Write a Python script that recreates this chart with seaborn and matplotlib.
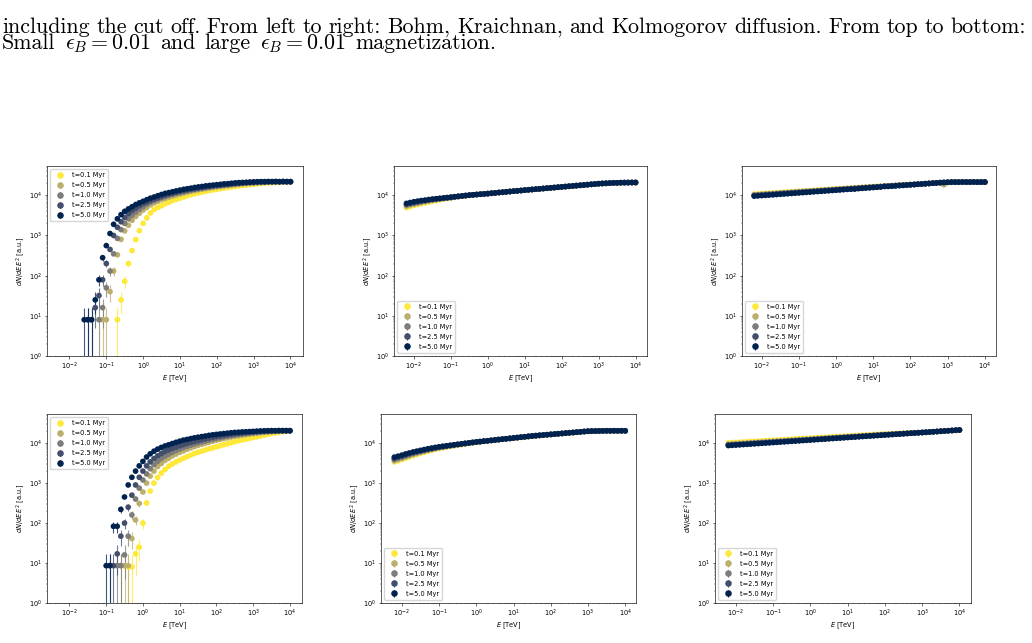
import matplotlib
matplotlib.use("Agg")
import matplotlib.pyplot as plt
import numpy as np
import pandas as pd
import seaborn as sns
from matplotlib.ticker import LogLocator, NullFormatter

# ---------------------------------------------------------------- data
times = ["t=0.1 Myr", "t=0.5 Myr", "t=1.0 Myr", "t=2.5 Myr", "t=5.0 Myr"]

# energy bins [TeV], shared by all panels (series are aligned to the high end)
E = [0.0063, 0.0079, 0.01, 0.0126, 0.0158, 0.02, 0.0251, 0.0316, 0.0398, 0.0501,
     0.0631, 0.0794, 0.1, 0.126, 0.158, 0.2, 0.251, 0.316, 0.398, 0.501,
     0.631, 0.794, 1.0, 1.26, 1.58, 2.0, 2.51, 3.16, 3.98, 5.01,
     6.31, 7.94, 10, 12.6, 15.8, 20, 25.1, 31.6, 39.8, 50.1,
     63.1, 79.4, 100, 126, 158, 200, 251, 316, 398, 501,
     631, 794, 1000, 1259, 1585, 1995, 2512, 3162, 3981, 5012,
     6310, 7943, 10000]

x_ticks = [0.01, 0.1, 1, 10, 100, 1000, 10000]
y_ticks = [1, 10, 100, 1000, 10000]

# Bohm, small eps_B
bohm_small_01 = [8, 25, 72, 200, 420, 790, 1320, 2000, 2750, 3630,
                 4470, 5000, 5500, 6170, 6760, 7410, 7940, 8510, 9120, 9770,
                 10350, 10960, 11480, 12020, 12590, 13180, 13650, 14130, 14620, 15140,
                 15670, 16220, 16600, 17180, 17580, 17990, 18410, 18840, 19280, 19720,
                 19950, 20420, 20650, 20890, 21130, 21380, 21380, 21630]
bohm_small_05 = [8, 8, 40, 130, 330, 800, 1300, 1800, 2400, 3000,
                 3600, 4300, 5000, 5800, 6500, 7100, 7800, 8400, 9000, 9600,
                 10200, 10800, 11400, 12000, 12600, 13100, 13700, 14200, 14700, 15200,
                 15700, 16200, 16600, 17100, 17500, 18000, 18400, 18800, 19200, 19600,
                 20000, 20300, 20600, 20800, 21100, 21300, 21400, 21500, 21600, 21700,
                 21700, 21800]
bohm_small_10 = [8, 16, 50, 130, 350, 850, 1400, 2000, 2600, 3200,
                 3800, 4500, 5200, 6000, 6800, 7400, 8100, 8700, 9300, 10000,
                 10600, 11200, 11700, 12300, 12900, 13500, 14000, 14500, 15000, 15500,
                 16000, 16600, 17000, 17400, 17800, 18200, 18600, 19100, 19500, 20000,
                 20200, 20400, 20700, 20900, 21100, 21400, 21600, 21700, 21800, 21700,
                 21900, 21800, 21900]
bohm_small_25 = [8, 8, 16, 32, 79, 200, 450, 1000, 1600, 2200,
                 2800, 3500, 4200, 4800, 5500, 6200, 6800, 7400, 8100, 8700,
                 9300, 10000, 10700, 11200, 11900, 12400, 13000, 13600, 14100, 14600,
                 15100, 15700, 16200, 16600, 17200, 17600, 18000, 18400, 18800, 19300,
                 19700, 20000, 20400, 20700, 20900, 21100, 21400, 21600, 21600, 21900,
                 21900, 22000, 21800, 22000, 21900, 21900]
bohm_small_50 = [8, 8, 8, 25, 79, 280, 560, 1120, 1900, 2600,
                 3300, 4000, 4600, 5200, 5900, 6500, 7100, 7800, 8500, 9100,
                 9800, 10500, 11200, 11700, 12300, 12900, 13500, 14100, 14600, 15100,
                 15700, 16200, 16600, 17200, 17600, 18000, 18400, 18800, 19300, 19500,
                 20000, 20400, 20700, 20900, 21100, 21400, 21600, 21800, 21900, 21900,
                 22000, 21900, 22000, 21900, 22000, 21900, 21800]
bohm_small_err_01 = [8, 14, 24, 40]
bohm_small_err_05 = [8, 8, 18, 32]
bohm_small_err_10 = [8, 11, 20, 32]
bohm_small_err_25 = [8, 8, 11, 16, 25, 40]
bohm_small_err_50 = [8, 8, 8, 14, 25, 47]

# Kraichnan, small eps_B
kraich_small_01 = [4900, 5250, 5620, 5890, 6170, 6460, 6760, 7080, 7410, 7760,
                   8040, 8320, 8610, 9000, 9250, 9500, 9750, 10000, 10200, 10450,
                   10700, 10900, 11100, 11350, 11600, 11850, 12100, 12350, 12600, 12850,
                   13100, 13300, 13500, 13750, 13950, 14200, 14450, 14700, 14980, 15250,
                   15550, 15850, 16150, 16450, 16750, 17050, 17400, 17700, 18000, 18350,
                   18700, 19050, 19400, 19650, 19850, 20050, 20300, 20450, 20550, 20650,
                   20750, 20800, 20850]
kraich_small_05 = [5370, 5750, 6030, 6310, 6610, 6920, 7240, 7500, 7760, 8040,
                   8320, 8510, 8710, 9100, 9350, 9580, 9800, 10050, 10250, 10470,
                   10680, 10850, 11050, 11300, 11550, 11800, 12050, 12300, 12550, 12800,
                   13000, 13250, 13450, 13700, 13950, 14200, 14480, 14750, 15030, 15300,
                   15600, 15880, 16180, 16480, 16800, 17100, 17420, 17750, 18080, 18420,
                   18760, 19100, 19450, 19700, 19900, 20100, 20350, 20500, 20600, 20700,
                   20800, 20800, 20900]
kraich_small_10 = [5750, 6030, 6310, 6610, 6920, 7240, 7500, 7760, 7940, 8220,
                   8410, 8610, 8810, 9150, 9380, 9620, 9830, 10080, 10280, 10480,
                   10650, 10820, 11020, 11250, 11500, 11720, 11950, 12200, 12430, 12700,
                   12920, 13170, 13480, 13720, 13980, 14250, 14500, 14770, 15050, 15330,
                   15600, 15900, 16200, 16500, 16800, 17120, 17430, 17750, 18100, 18430,
                   18780, 19130, 19480, 19750, 19930, 20150, 20380, 20480, 20620, 20720,
                   20780, 20850, 20850]
kraich_small_25 = [6030, 6310, 6610, 6920, 7240, 7410, 7670, 7940, 8130, 8320,
                   8510, 8710, 8910, 9180, 9400, 9600, 9850, 10050, 10250, 10450,
                   10600, 10800, 11000, 11200, 11450, 11700, 11900, 12150, 12400, 12650,
                   12900, 13150, 13450, 13700, 13950, 14200, 14450, 14750, 15000, 15300,
                   15600, 15900, 16200, 16500, 16800, 17100, 17400, 17700, 18050, 18400,
                   18750, 19100, 19450, 19700, 19900, 20100, 20300, 20450, 20600, 20700,
                   20750, 20800, 20850]
kraich_small_50 = [6310, 6610, 6920, 7160, 7410, 7590, 7850, 8040, 8220, 8410,
                   8610, 8810, 9020, 9230, 9440, 9660, 9890, 10120, 10300, 10470,
                   10670, 10840, 11040, 11270, 11480, 11750, 11970, 12220, 12450, 12710,
                   12940, 13180, 13490, 13740, 14000, 14260, 14520, 14790, 15070, 15350,
                   15630, 15920, 16220, 16520, 16830, 17140, 17460, 17780, 18110, 18450,
                   18790, 19140, 19500, 19770, 19950, 20180, 20420, 20510, 20650, 20750,
                   20800, 20890, 20890]

# Kolmogorov, small eps_B
kolmo_small_01 = [10700, 10850, 11000, 11150, 11300, 11450, 11600, 11780, 11950, 12100,
                  12300, 12450, 12650, 12800, 13000, 13150, 13350, 13550, 13700, 13900,
                  14100, 14300, 14500, 14600, 14800, 15000, 15200, 15400, 15600, 15800,
                  16000, 16200, 16400, 16600, 16850, 17050, 17300, 17500, 17700, 17950,
                  18200, 18400, 18650, 18900, 19100, 19300, 19500, 19700, 19900, 20200,
                  20500, 20700, 20900, 21000, 21100, 21200, 21200, 21300, 21300, 21200,
                  21300, 21300, 21300]
kolmo_small_05 = [10300, 10450, 10600, 10750, 10900, 11050, 11200, 11380, 11550, 11700,
                  11880, 12050, 12230, 12400, 12580, 12770, 12950, 13150, 13330, 13530,
                  13720, 13930, 14130, 14320, 14530, 14740, 14950, 15170, 15390, 15610,
                  15800, 16000, 16200, 16400, 16650, 16850, 17100, 17300, 17500, 17750,
                  18000, 18250, 18500, 18750, 19000, 19250, 19500, 19750, 20000, 20300,
                  20600, 18300, 21000, 21100, 21200, 21200, 21300, 21200, 21300, 21300,
                  21200, 21300, 21300]
kolmo_small_10 = [10100, 10250, 10400, 10550, 10700, 10850, 11000, 11170, 11340, 11500,
                  11680, 11850, 12030, 12200, 12380, 12570, 12750, 12940, 13130, 13330,
                  13520, 13730, 13930, 14130, 14340, 14550, 14760, 14980, 15200, 15420,
                  15650, 15880, 16110, 16350, 16590, 16830, 17080, 17330, 17580, 17840,
                  17900, 18150, 18420, 18700, 18980, 19260, 19550, 19840, 20130, 20430,
                  20700, 20950, 21150, 21250, 21300, 21250, 21400, 21350, 21300, 21400,
                  21300, 21350, 21350]
kolmo_small_25 = [9800, 9950, 10100, 10250, 10410, 10560, 10720, 10890, 11050, 11220,
                  11390, 11570, 11740, 11920, 12100, 12290, 12480, 12670, 12860, 13060,
                  13260, 13460, 13670, 13870, 14090, 14300, 14520, 14750, 14970, 15200,
                  15430, 15670, 15910, 16150, 16400, 16650, 16900, 17160, 17420, 17680,
                  17800, 18080, 18360, 18640, 18920, 19210, 19500, 19800, 20100, 20400,
                  20700, 20920, 21140, 21300, 21350, 21300, 21450, 21400, 21350, 21450,
                  21300, 21400, 21400]
kolmo_small_50 = [9550, 9700, 9850, 10000, 10160, 10310, 10470, 10640, 10800, 10970,
                  11140, 11320, 11490, 11670, 11850, 12040, 12230, 12420, 12610, 12810,
                  13000, 13210, 13410, 13620, 13830, 14050, 14260, 14300, 14710, 14940,
                  15170, 15410, 15650, 15890, 16140, 16700, 16650, 16910, 17170, 17440,
                  17700, 17980, 18260, 18540, 18830, 19120, 19420, 19720, 20030, 20340,
                  20650, 20890, 21130, 21300, 21400, 21300, 21500, 21400, 21400, 21500,
                  21300, 21400, 21400]

# Bohm, large eps_B
bohm_large_01 = [8, 8, 17, 25, 100, 320, 630, 1000, 1380, 1780,
                 2190, 2630, 3020, 3390, 3800, 4170, 4570, 5010, 5500, 5890,
                 6310, 6760, 7240, 7590, 8130, 8610, 9120, 9660, 10230, 10840,
                 11480, 12020, 12590, 13180, 13800, 14450, 15140, 15850, 16600, 17380,
                 17990, 18620, 19280, 19950, 20420]
bohm_large_05 = [8.6, 8.6, 8.6, 41, 120, 310, 600, 1000, 1500, 2000,
                 2600, 3100, 3700, 4200, 4800, 5300, 5900, 6400, 7000, 7600,
                 8200, 8800, 9400, 10000, 10600, 11200, 11800, 12400, 13000, 13600,
                 14200, 14800, 15300, 15800, 16300, 16800, 17300, 17700, 18200, 18600,
                 19000, 19300, 19600, 19900, 20100, 20300, 20400]
bohm_large_10 = [8.6, 8.6, 16, 47, 160, 400, 750, 1200, 1700, 2300,
                 2900, 3500, 4100, 4700, 5300, 5900, 6500, 7100, 7700, 8300,
                 8900, 9500, 10100, 10700, 11300, 11900, 12500, 13100, 13700, 14300,
                 14900, 15400, 15900, 16400, 16900, 17400, 17800, 18200, 18600, 19000,
                 19300, 19600, 19900, 20100, 20300, 20400, 20500, 20500]
bohm_large_25 = [8.6, 8.6, 17, 47, 100, 250, 500, 900, 1400, 2000,
                 2700, 3400, 4100, 4800, 5500, 6200, 6800, 7400, 8000, 8600,
                 9200, 9800, 10400, 11000, 11600, 12200, 12800, 13400, 14000, 14600,
                 15100, 15600, 16100, 16600, 17100, 17500, 17900, 18300, 18700, 19000,
                 19300, 19600, 19800, 20000, 20200, 20300, 20400, 20500, 20400, 20500]
bohm_large_50 = [8.6, 8.6, 83, 83, 220, 450, 900, 1400, 2000, 2700,
                 3500, 4500, 5400, 6300, 7100, 7800, 8500, 9100, 9800, 10500,
                 11200, 11900, 12400, 13000, 13600, 14100, 14600, 15100, 15700, 16200,
                 16600, 17000, 17400, 17800, 18200, 18600, 18800, 19100, 19300, 19500,
                 19700, 20000, 20200, 20400, 20500, 20600, 20500, 20700, 20600, 20600,
                 20500]
bohm_large_err_01 = [8, 8, 12, 14, 29, 50]
bohm_large_err_05 = [8.6, 8.6, 8.6, 18, 31, 50]
bohm_large_err_10 = [8.6, 8.6, 12, 20, 36]
bohm_large_err_25 = [8.6, 8.6, 12, 20, 29, 45]
bohm_large_err_50 = [8.6, 8.6, 26, 26, 42]

# Kraichnan, large eps_B
kraich_large_01 = [3390, 3630, 3890, 4220, 4520, 4840, 5190, 5560, 5890, 6240,
                   6610, 7000, 7330, 7670, 8040, 8320, 8610, 8910, 9230, 9550,
                   9890, 10230, 10520, 10800, 11100, 11400, 11750, 12100, 12400, 12700,
                   12950, 13200, 13450, 13700, 14000, 14300, 14600, 14950, 15250, 15550,
                   15850, 16100, 16400, 16700, 17000, 17300, 17600, 17950, 18300, 18650,
                   19000, 19350, 19700, 19850, 19950, 20050, 20150, 20200, 20250, 20200,
                   20300, 20250, 20300]
kraich_large_05 = [3630, 3890, 4170, 4520, 4840, 5190, 5500, 5890, 6240, 6610,
                   6920, 7240, 7590, 7850, 8130, 8410, 8710, 9020, 9330, 9660,
                   10000, 10300, 10590, 10850, 11150, 11420, 11700, 11980, 12270, 12560,
                   12850, 13150, 13450, 13760, 14080, 14400, 14730, 15070, 15360, 15640,
                   15940, 16230, 16530, 16830, 17150, 17470, 17790, 18120, 18450, 18800,
                   19150, 19500, 19850, 19950, 20050, 20150, 20250, 20300, 20300, 20350,
                   20300, 20400, 20350]
kraich_large_10 = [3890, 4170, 4420, 4790, 5130, 5500, 5820, 6170, 6530, 6840,
                   7160, 7500, 7850, 8130, 8410, 8710, 8970, 9270, 9550, 9840,
                   10140, 10420, 10670, 10900, 11180, 11450, 11720, 11990, 12280, 12570,
                   12860, 13160, 13470, 13780, 14100, 14420, 14760, 15100, 15390, 15670,
                   15970, 16260, 16570, 16870, 17190, 17500, 17820, 18160, 18490, 18840,
                   19190, 19550, 19900, 20000, 20100, 20190, 20280, 20370, 20330, 20400,
                   20360, 20420, 20380]
kraich_large_25 = [4170, 4470, 4730, 5070, 5430, 5750, 6100, 6380, 6760, 7080,
                   7380, 7690, 7980, 8240, 8510, 8770, 9040, 9310, 9590, 9860,
                   10140, 10420, 10690, 10940, 11200, 11470, 11740, 12010, 12290, 12580,
                   12870, 13170, 13480, 13790, 14120, 14440, 14780, 15120, 15410, 15690,
                   15990, 16280, 16590, 16890, 17210, 17530, 17850, 18180, 18510, 18860,
                   19210, 19570, 19930, 20020, 20120, 20210, 20300, 20400, 20340, 20430,
                   20380, 20440, 20390]
kraich_large_50 = [4470, 4730, 5010, 5370, 5690, 6030, 6310, 6610, 6920, 7240,
                   7530, 7830, 8130, 8360, 8590, 8830, 9080, 9330, 9590, 9860,
                   10140, 10420, 10720, 10960, 11220, 11480, 11750, 12020, 12300, 12590,
                   12880, 13180, 13490, 13800, 14130, 14450, 14790, 15140, 15420, 15700,
                   16000, 16290, 16600, 16900, 17220, 17540, 17860, 18200, 18530, 18880,
                   19230, 19590, 19950, 20040, 20140, 20230, 20320, 20420, 20350, 20450,
                   20400, 20450, 20400]

# Kolmogorov, large eps_B
kolmo_large_01 = [10190, 10320, 10450, 10570, 10710, 10840, 10970, 11110, 11250, 11380,
                  11530, 11670, 11820, 11960, 12110, 12260, 12420, 12570, 12720, 12870,
                  13040, 13190, 13360, 13520, 13700, 13860, 14030, 14200, 14390, 14560,
                  14740, 14920, 15110, 15280, 15470, 15660, 15870, 16050, 16250, 16440,
                  16650, 16800, 16950, 17100, 17250, 17400, 17570, 17740, 17900, 18050,
                  18210, 18360, 18500, 18600, 18870, 19150, 19430, 19700, 19990, 20300,
                  20600, 20900, 21200]
kolmo_large_05 = [9450, 9580, 9710, 9840, 9970, 10100, 10240, 10380, 10520, 10650,
                  10800, 10950, 11100, 11240, 11390, 11550, 11710, 11860, 12020, 12170,
                  12340, 12500, 12670, 12840, 13020, 13190, 13360, 13550, 13730, 13910,
                  14100, 14290, 14480, 14670, 14860, 15060, 15280, 15470, 15680, 15890,
                  16100, 16290, 16480, 16670, 16870, 17060, 17270, 17480, 17690, 17890,
                  18100, 18300, 18510, 18700, 18960, 19250, 19530, 19800, 20100, 20400,
                  20700, 21000, 21300]
kolmo_large_10 = [9080, 9210, 9340, 9470, 9600, 9740, 9870, 10010, 10150, 10290,
                  10440, 10580, 10730, 10880, 11030, 11190, 11350, 11500, 11660, 11820,
                  11990, 12150, 12320, 12500, 12680, 12850, 13030, 13220, 13410, 13590,
                  13780, 13970, 14170, 14360, 14560, 14770, 14980, 15190, 15400, 15610,
                  15830, 16040, 16250, 16460, 16680, 16900, 17130, 17350, 17580, 17810,
                  18050, 18280, 18510, 18740, 19010, 19290, 19580, 19850, 20150, 20450,
                  20750, 21050, 21350]
kolmo_large_25 = [8900, 9030, 9160, 9290, 9420, 9560, 9690, 9830, 9970, 10100,
                  10250, 10400, 10550, 10700, 10850, 11010, 11170, 11330, 11490, 11650,
                  11810, 11980, 12150, 12330, 12510, 12690, 12870, 13050, 13240, 13430,
                  13620, 13820, 14010, 14210, 14410, 14620, 14840, 15040, 15260, 15480,
                  15700, 15920, 16140, 16360, 16590, 16820, 17050, 17290, 17530, 17770,
                  18020, 18260, 18520, 18760, 19040, 19310, 19600, 19880, 20170, 20470,
                  20770, 21070, 21380]
kolmo_large_50 = [8710, 8840, 8970, 9100, 9230, 9370, 9500, 9640, 9780, 9920,
                  10070, 10220, 10370, 10520, 10670, 10830, 10990, 11150, 11310, 11470,
                  11640, 11810, 11980, 12160, 12340, 12520, 12700, 12890, 13080, 13270,
                  13460, 13660, 13860, 14060, 14260, 14470, 14690, 14900, 15120, 15340,
                  15560, 15790, 16020, 16250, 16490, 16730, 16980, 17220, 17480, 17730,
                  17990, 18250, 18520, 18790, 19060, 19340, 19630, 19910, 20200, 20500,
                  20800, 21100, 21410]

caption_1 = ["including", "the", "cut", "off.", "From", "left", "to", "right:",
             "Bohm,", "Kraichnan,", "and", "Kolmogorov", "diffusion.", "From",
             "top", "to", "bottom:"]
caption_2 = ["Small", r"$\epsilon_B = 0.01$", "and", "large",
             r"$\epsilon_B = 0.01$", "magnetization."]


# ---------------------------------------------------------------- helpers
def panel_frame(series, errors):
    parts = []
    for label, vals, err in zip(times, series, errors):
        n = len(vals)
        parts.append(pd.DataFrame({
            "time": label,
            "E": E[-n:],
            "flux": vals,
            "err": list(err) + [0] * (n - len(err)),
        }))
    return pd.concat(parts, ignore_index=True)


cmap = matplotlib.colormaps["cividis"]
palette = [cmap(v) for v in (1.0, 0.75, 0.5, 0.25, 0.0)]

FS = 4.8
MS = 4.1


def draw(ax, df, legend_loc, xlim):
    ax.set_xscale("log")
    ax.set_yscale("log")
    for label, color in zip(times, palette):
        d = df[(df["time"] == label) & (df["err"] > 0)]
        if len(d):
            ax.errorbar(d["E"], d["flux"], yerr=d["err"], fmt="none",
                        ecolor=color, elinewidth=0.8, alpha=0.75, zorder=1)
    sns.scatterplot(data=df, x="E", y="flux", hue="time", hue_order=times,
                    palette=palette, s=MS ** 2, edgecolor="none",
                    legend=False, ax=ax, zorder=2)
    ax.set_xlim(*xlim)
    ax.set_ylim(1, 10 ** 4.73)
    ax.set_xticks(x_ticks)
    ax.set_yticks(y_ticks)
    ax.xaxis.set_minor_locator(LogLocator(base=10, subs=np.arange(2, 10), numticks=40))
    ax.yaxis.set_minor_locator(LogLocator(base=10, subs=np.arange(2, 10), numticks=40))
    ax.xaxis.set_minor_formatter(NullFormatter())
    ax.yaxis.set_minor_formatter(NullFormatter())
    ax.set_xlim(*xlim)
    ax.set_ylim(1, 10 ** 4.73)
    ax.tick_params(which="major", labelsize=FS, length=1.8, width=0.4, pad=1.5)
    ax.tick_params(which="minor", length=1.0, width=0.3)
    for sp in ax.spines.values():
        sp.set_linewidth(0.45)
    ax.set_xlabel(r"$E$ [TeV]", fontsize=FS, labelpad=1.5)
    ax.set_ylabel(r"$dN/dE\,E^2$ [a.u.]", fontsize=FS, labelpad=1.5)

    handles = []
    for label, color in zip(times, palette):
        h = ax.errorbar([np.nan], [np.nan], yerr=[1.0], fmt="o", color=color,
                        ms=3.7, elinewidth=0.8, label=label)
        handles.append(h)
    ax.legend(handles=handles, loc=legend_loc, fontsize=FS, handletextpad=0.8,
              borderpad=0.45, labelspacing=0.6, frameon=True)


# ---------------------------------------------------------------- figure
W, H = 1032, 643
fig = plt.figure(figsize=(W / 100, H / 100), dpi=100)


def rect(l, t, r, b):
    return [l / W, 1 - b / H, (r - l) / W, (b - t) / H]


no_err = [[], [], [], [], []]
panels = [
    ((47, 166, 303, 356), [bohm_small_01, bohm_small_05, bohm_small_10, bohm_small_25, bohm_small_50],
     [bohm_small_err_01, bohm_small_err_05, bohm_small_err_10, bohm_small_err_25, bohm_small_err_50],
     "upper left", (10 ** -2.61, 10 ** 4.34)),
    ((394, 166, 647, 356), [kraich_small_01, kraich_small_05, kraich_small_10, kraich_small_25, kraich_small_50],
     no_err, "lower left", (10 ** -2.54, 10 ** 4.31)),
    ((742, 166, 996, 356), [kolmo_small_01, kolmo_small_05, kolmo_small_10, kolmo_small_25, kolmo_small_50],
     no_err, "lower left", (10 ** -2.53, 10 ** 4.30)),
    ((47, 414, 302, 603), [bohm_large_01, bohm_large_05, bohm_large_10, bohm_large_25, bohm_large_50],
     [bohm_large_err_01, bohm_large_err_05, bohm_large_err_10, bohm_large_err_25, bohm_large_err_50],
     "upper left", (10 ** -2.61, 10 ** 4.33)),
    ((381, 414, 636, 603), [kraich_large_01, kraich_large_05, kraich_large_10, kraich_large_25, kraich_large_50],
     no_err, "lower left", (10 ** -2.56, 10 ** 4.29)),
    ((715, 414, 971, 603), [kolmo_large_01, kolmo_large_05, kolmo_large_10, kolmo_large_25, kolmo_large_50],
     no_err, "lower left", (10 ** -2.56, 10 ** 4.31)),
]

for box, series, errors, loc, xlim in panels:
    ax = fig.add_axes(rect(*box))
    draw(ax, panel_frame(series, errors), loc, xlim)

# caption: words spread over the measured extent of each printed line
CAP_FS = 15.8
cap_kw = dict(fontsize=CAP_FS, family="cmr10", math_fontfamily="cm",
              va="baseline", ha="left")
lines = [(caption_1, 33, 2, 1026), (caption_2, 49, 2, 496)]
placed = []
for words, base, left, right in lines:
    texts = [fig.text(0, 1 - base / H, w, **cap_kw) for w in words]
    placed.append((texts, left, right))

fig.canvas.draw()
renderer = fig.canvas.get_renderer()
for texts, left, right in placed:
    widths = [t.get_window_extent(renderer).width for t in texts]
    gap = (right - left - sum(widths)) / (len(texts) - 1)
    x = float(left)
    for t, w in zip(texts, widths):
        t.set_x(x / W)
        x += w + gap

fig.savefig("out.png", dpi=100)
